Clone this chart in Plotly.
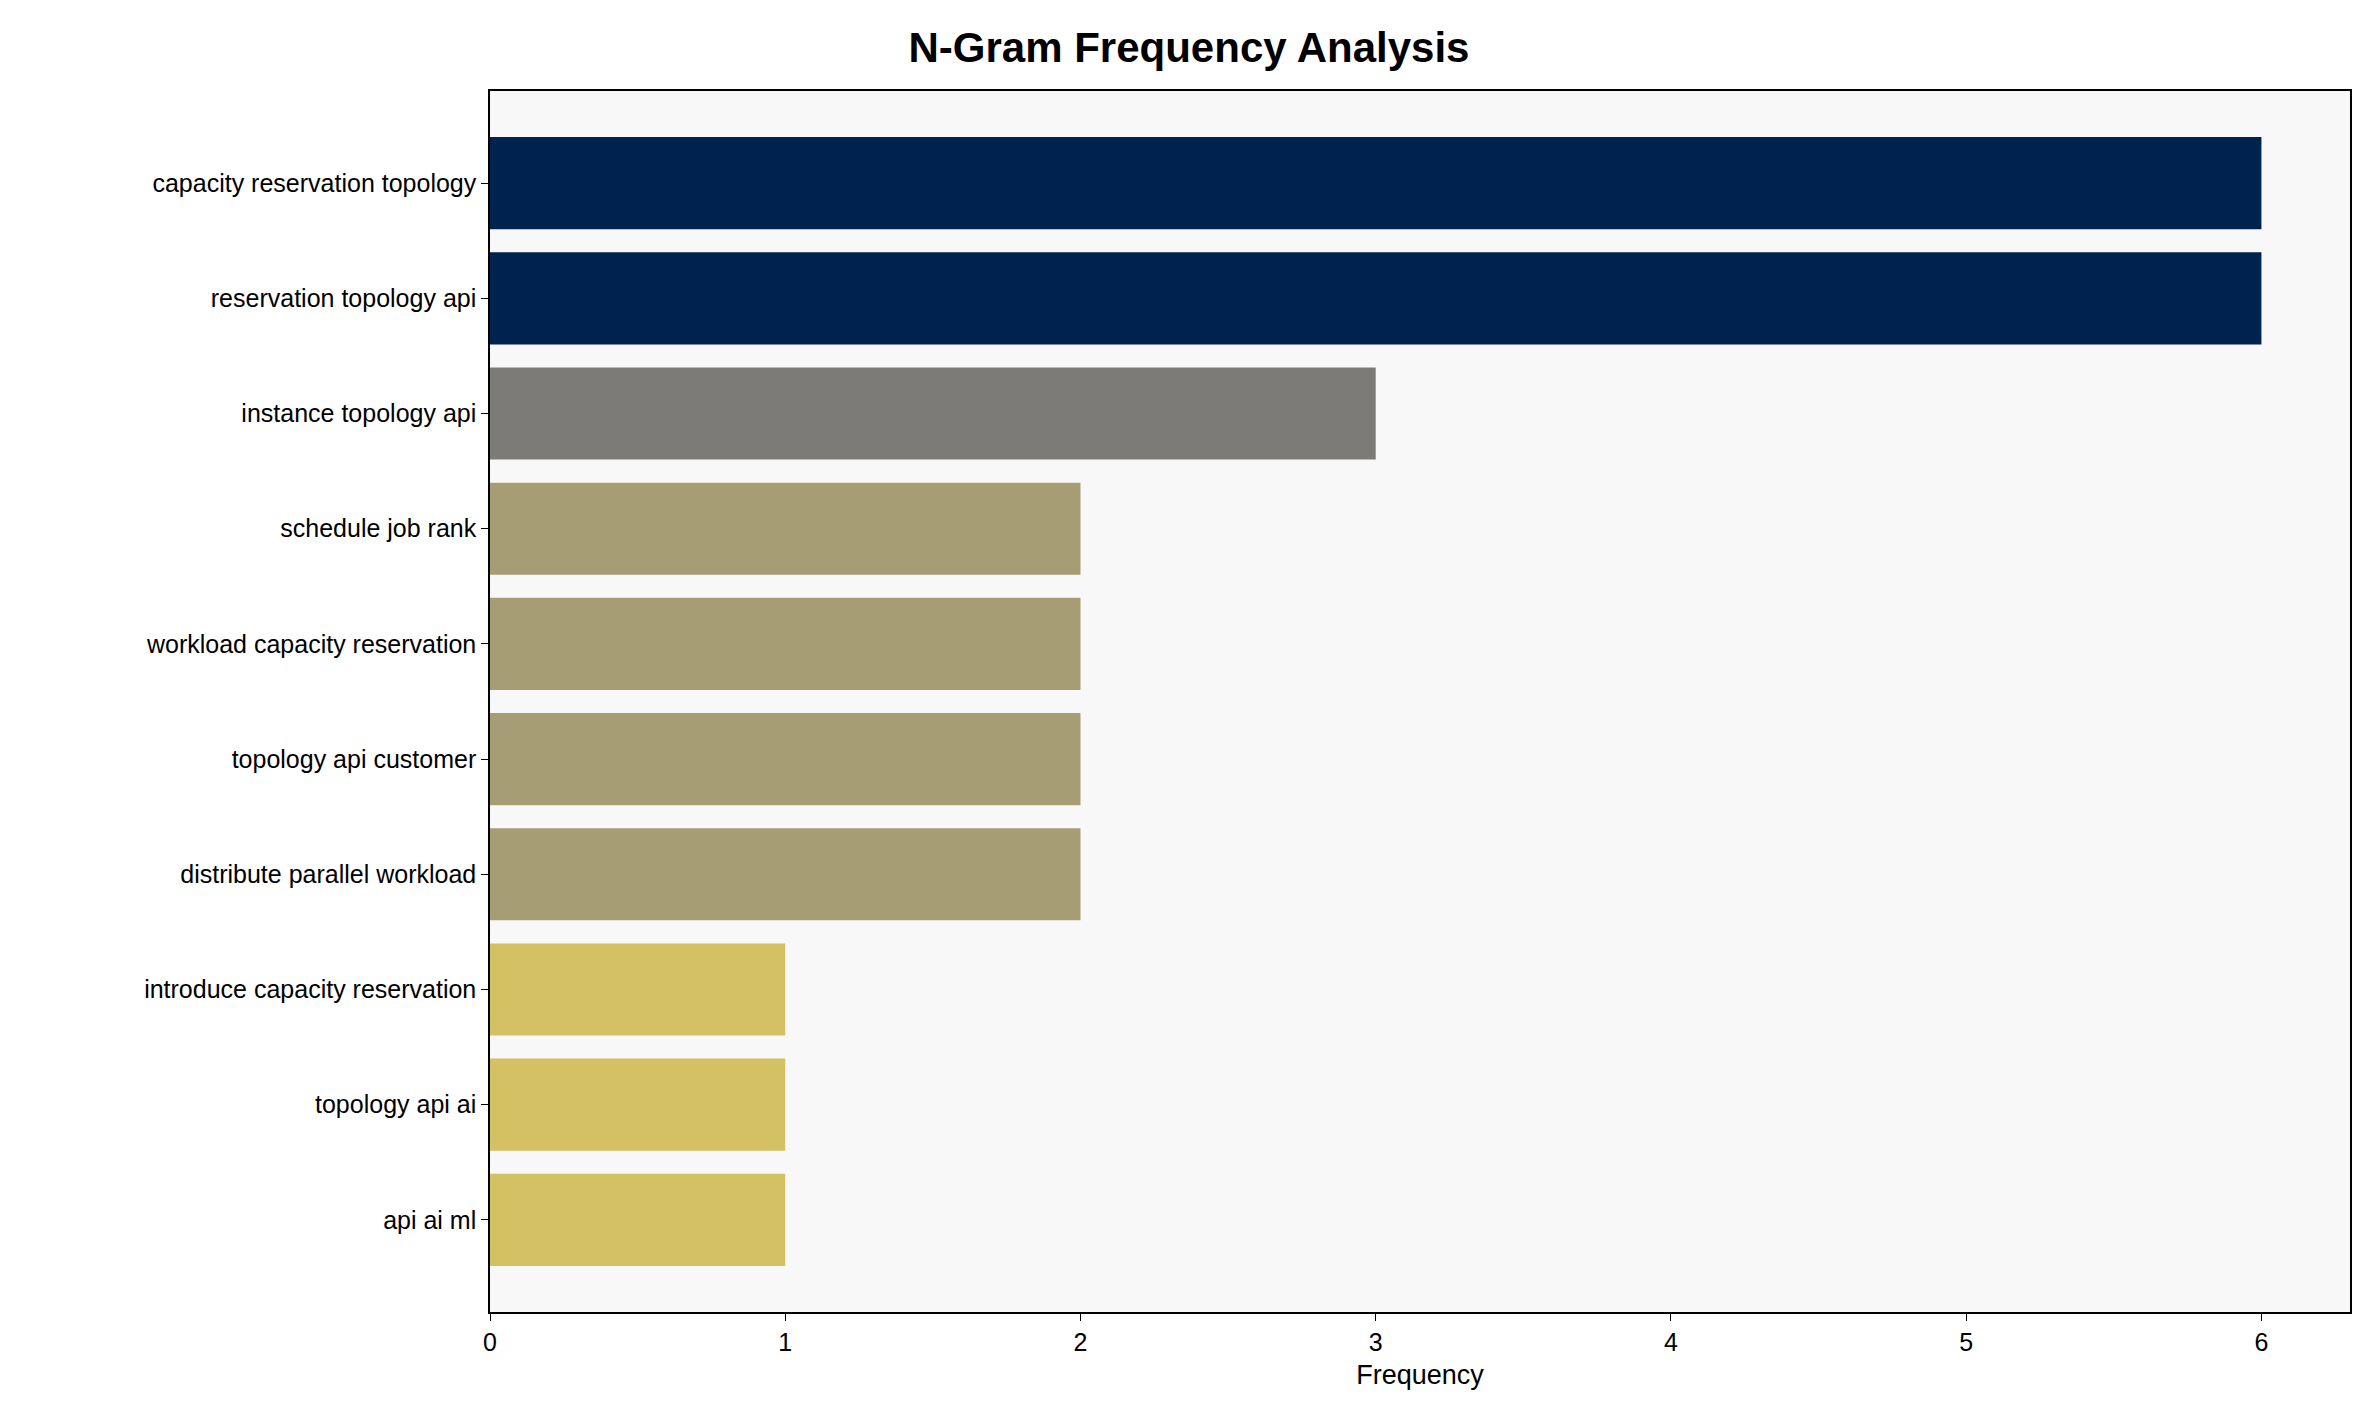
import plotly.graph_objects as go

ngrams = ["capacity reservation topology", "reservation topology api", "instance topology api",
          "schedule job rank", "workload capacity reservation", "topology api customer",
          "distribute parallel workload", "introduce capacity reservation", "topology api ai", "api ai ml"]
freqs = [6, 6, 3, 2, 2, 2, 2, 1, 1, 1]
colour_map = {6: "#00224e", 3: "#7c7b78", 2: "#a69d75", 1: "#d3c164"}
colors = [colour_map[f] for f in freqs]

fig = go.Figure(go.Bar(x=freqs, y=ngrams, orientation="h", marker_color=colors,
                       marker_line_width=0, width=0.8))
fig.update_layout(
    width=2362, height=1414,
    paper_bgcolor="white", plot_bgcolor="#f8f8f8",
    font=dict(family="Liberation Sans, Arial", size=25, color="black"),
    title=dict(text="<b>N-Gram Frequency Analysis</b>", x=0.5, xanchor="center",
               y=0.972, yanchor="middle", font=dict(size=42)),
    margin=dict(l=482, r=20, t=83, b=110),
    showlegend=False,
)
fig.update_xaxes(range=[0, 6.3], dtick=1, showgrid=False, zeroline=False,
                 showline=True, linecolor="black", linewidth=1.5, mirror=True,
                 ticks="outside", ticklen=7, tickcolor="black",
                 title=dict(text="Frequency", font=dict(size=27), standoff=10))
fig.update_yaxes(categoryorder="array", categoryarray=ngrams, range=[9.8, -0.8],
                 showgrid=False, zeroline=False, showline=True, linecolor="black",
                 linewidth=1.5, mirror=True, ticks="outside", ticklen=7, tickcolor="black")
fig.write_html("out.html")
